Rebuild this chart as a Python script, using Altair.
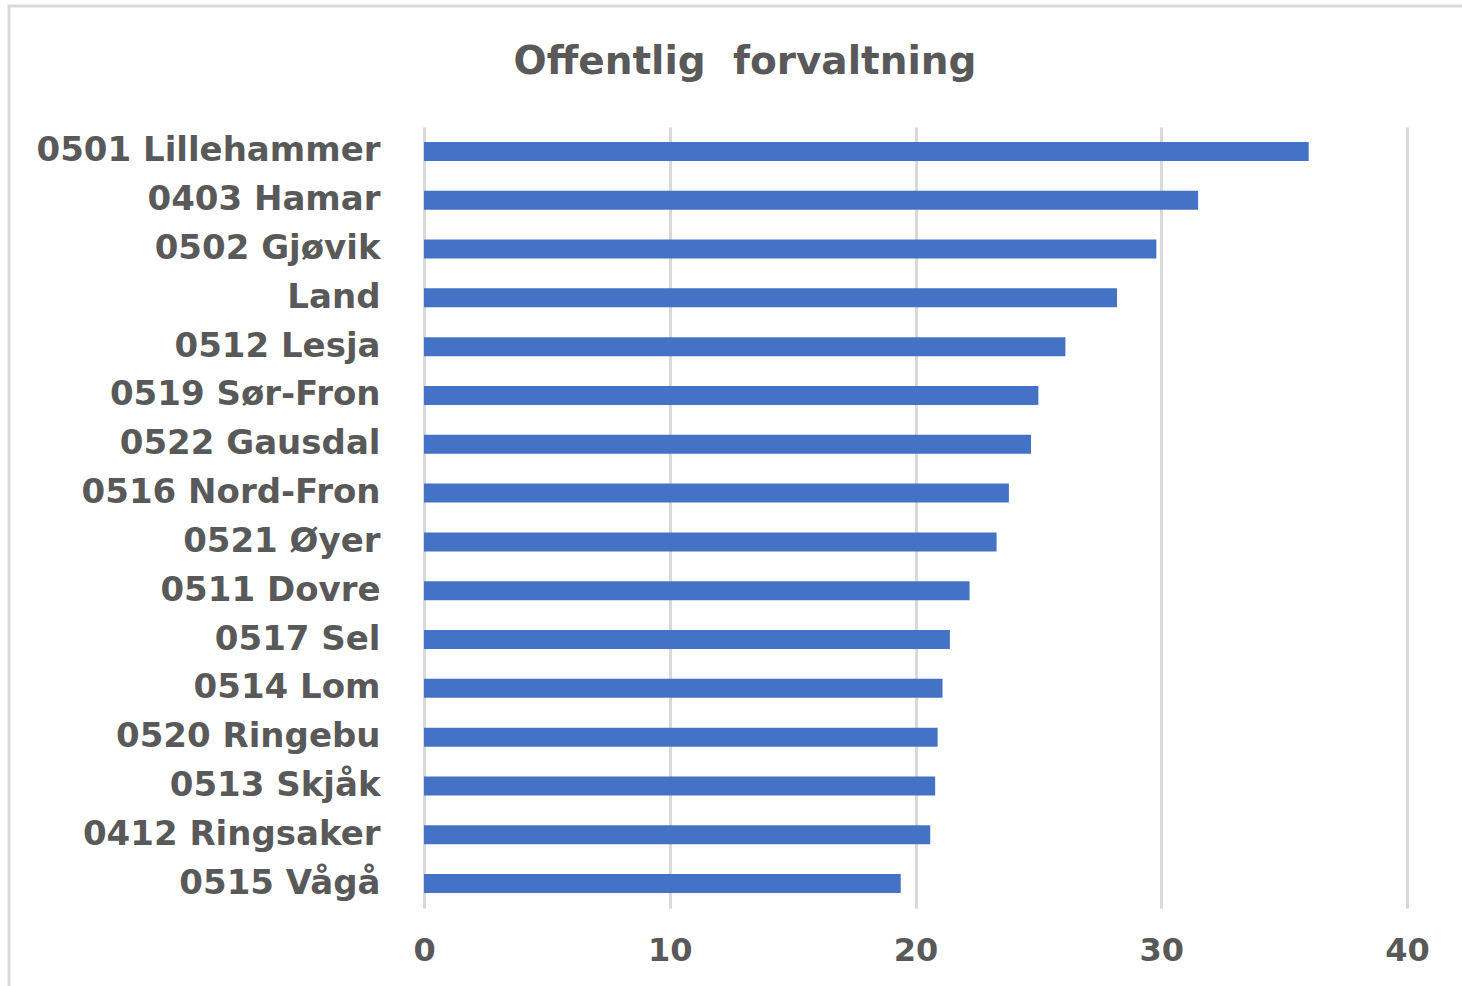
import altair as alt
import pandas as pd

kommuner = ["0501 Lillehammer", "0403 Hamar", "0502 Gjøvik", "Land", "0512 Lesja",
            "0519 Sør-Fron", "0522 Gausdal", "0516 Nord-Fron", "0521 Øyer", "0511 Dovre",
            "0517 Sel", "0514 Lom", "0520 Ringebu", "0513 Skjåk", "0412 Ringsaker", "0515 Vågå"]
verdier = [36.0, 31.5, 29.8, 28.2, 26.1, 25.0, 24.7, 23.8, 23.3, 22.2,
           21.4, 21.1, 20.9, 20.8, 20.6, 19.4]
x_ticks = [0, 10, 20, 30, 40]
tittel = ["Offentlig\u00a0 forvaltning"]

df = pd.DataFrame({"kommune": kommuner, "verdi": verdier})
df_title = pd.DataFrame({"tittel": tittel})

TXT = "#595959"
FONT = "DejaVu Sans"

bars = alt.Chart(df).mark_bar(color="#4472C4", size=19).encode(
    x=alt.X("verdi:Q", scale=alt.Scale(domain=[0, 40], nice=False),
            axis=alt.Axis(values=x_ticks, title=None, domain=False, ticks=False,
                          grid=True, gridColor="#d9d9d9", gridWidth=3,
                          labelFont=FONT, labelFontSize=32, labelFontWeight="bold",
                          labelColor=TXT, labelPadding=27, labelFlush=False)),
    y=alt.Y("kommune:N", sort=kommuner,
            axis=alt.Axis(title=None, domain=False, ticks=False, grid=False,
                          labelFont=FONT, labelFontSize=34, labelFontWeight="bold",
                          labelColor=TXT, labelPadding=44, labelLimit=500)),
)

frame = alt.Chart(df_title).mark_rect(fill=None, stroke="#d9d9d9", strokeWidth=3).encode(
    x=alt.value(-415), x2=alt.value(1052), y=alt.value(-121), y2=alt.value(880)
)

title = alt.Chart(df_title).mark_text(
    font=FONT, fontSize=39, fontWeight="bold",
    color=TXT, align="center", baseline="middle"
).encode(text="tittel:N", x=alt.value(321), y=alt.value(-65))

chart = alt.layer(frame, bars, title).properties(
    width=983, height=781,
    padding={"left": 424, "top": 127, "right": 55, "bottom": 78},
    autosize=alt.AutoSizeParams(type="none"),
).configure_view(stroke=None)

chart.save("out.html", embed_options={"renderer": "svg", "actions": False})
